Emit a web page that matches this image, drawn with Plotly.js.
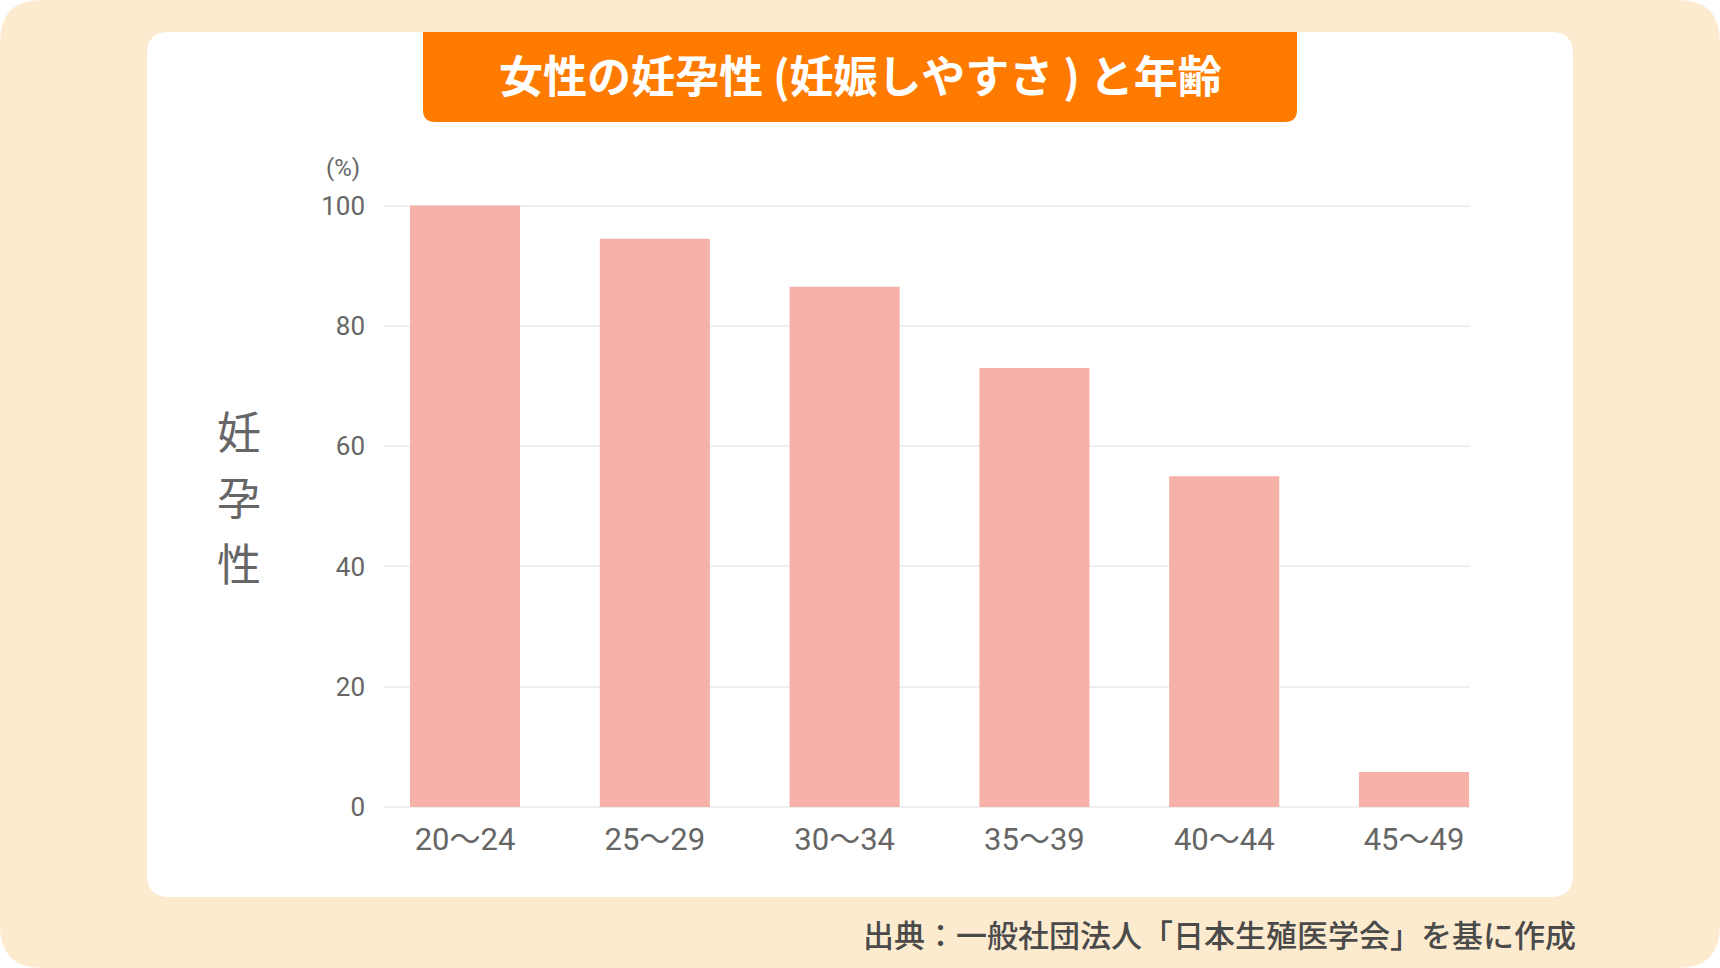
<!DOCTYPE html>
<html>
<head>
<meta charset="utf-8">
<script src="https://cdn.plot.ly/plotly-3.0.1.min.js"></script>
<style>
  html, body { margin: 0; padding: 0; background: #fff; }
  #chart { width: 1720px; height: 968px; }
</style>
</head>
<body>
<div id="chart"></div>
<script>
// data
const ageGroups = ['20～24', '25～29', '30～34', '35～39', '40～44', '45～49'];
const fertility = [100, 94.5, 86.5, 73, 55, 5.8];
const yTicks = [0, 20, 40, 60, 80, 100];
const yTitleChars = ['妊', '孕', '性'];

const titleText = '女性の妊孕性 (妊娠しやすさ ) と年齢';
const unitText = '(%)';
const sourceText = '出典：一般社団法人「日本生殖医学会」を基に作成';

// page geometry (pixels)
const W = 1720, H = 968;
const ML = 384, MR = 250, MT = 202, MB = 161;
const PW = W - ML - MR, PH = H - MT - MB;

// pixel -> paper fraction
const fx = px => (px - ML) / PW;
const fy = py => (H - MB - py) / PH;

// rounded rectangle as a paper path, corners via quadratic curves
function roundRect(x0, y0, x1, y1, rTop, rBot) {
    const p = (x, y) => fx(x).toFixed(5) + ',' + fy(y).toFixed(5);
    return 'M' + p(x0 + rTop, y0) +
        ' L' + p(x1 - rTop, y0) +
        ' Q' + p(x1, y0) + ' ' + p(x1, y0 + rTop) +
        ' L' + p(x1, y1 - rBot) +
        ' Q' + p(x1, y1) + ' ' + p(x1 - rBot, y1) +
        ' L' + p(x0 + rBot, y1) +
        ' Q' + p(x0, y1) + ' ' + p(x0, y1 - rBot) +
        ' L' + p(x0, y0 + rTop) +
        ' Q' + p(x0, y0) + ' ' + p(x0 + rTop, y0) + ' Z';
}

function bgShape(path, color) {
    return { type: 'path', xref: 'paper', yref: 'paper', layer: 'below', path: path, fillcolor: color, line: { width: 0 } };
}

const numFont = 'Roboto, "Noto Sans CJK JP", sans-serif';
const jpFont = '"Noto Sans CJK JP", sans-serif';

const annotations = [
    { // title banner text
        text: titleText, xref: 'paper', yref: 'paper', x: fx(860), y: fy(74),
        xanchor: 'center', yanchor: 'middle', showarrow: false,
        font: { family: jpFont, size: 44, color: '#ffffff', weight: 'bold' }
    },
    { // unit label
        text: unitText, xref: 'paper', yref: 'paper', x: fx(343), y: fy(168),
        xanchor: 'center', yanchor: 'middle', showarrow: false,
        font: { family: numFont, size: 24, color: '#666666' }
    },
    { // source note
        text: sourceText, xref: 'paper', yref: 'paper', x: fx(1578), y: fy(934),
        xanchor: 'right', yanchor: 'middle', showarrow: false,
        font: { family: jpFont, size: 31, color: '#4a4a4a', weight: 500 }
    }
];
// vertical axis title, one character per line
yTitleChars.forEach((ch, i) => {
    annotations.push({
        text: ch, xref: 'paper', yref: 'paper', x: fx(239), y: fy(430 + i * 66),
        xanchor: 'center', yanchor: 'middle', showarrow: false,
        font: { family: jpFont, size: 44, color: '#666666' }
    });
});

Plotly.newPlot('chart', [{
    type: 'bar',
    x: ageGroups,
    y: fertility,
    marker: { color: '#f6b1a8', line: { width: 0 } },
    hoverinfo: 'x+y'
}], {
    width: W,
    height: H,
    margin: { l: ML, r: MR, t: MT, b: MB, pad: 0 },
    paper_bgcolor: '#ffffff',
    plot_bgcolor: 'rgba(0,0,0,0)',
    showlegend: false,
    bargap: 0.42,
    xaxis: {
        type: 'category',
        range: [-0.427, 5.295],
        showgrid: false,
        zeroline: false,
        showline: false,
        ticks: '',
        ticklabelstandoff: 11,
        tickfont: { family: numFont, size: 31, color: '#666666' },
        fixedrange: true
    },
    yaxis: {
        range: [0, 100.6],
        tickvals: yTicks,
        ticktext: yTicks.map(String),
        showgrid: true,
        gridcolor: '#efefef',
        gridwidth: 2,
        zeroline: true,
        zerolinecolor: '#efefef',
        zerolinewidth: 2,
        showline: false,
        ticks: '',
        ticklabelstandoff: 18,
        tickfont: { family: numFont, size: 26, color: '#666666' },
        fixedrange: true
    },
    shapes: [
        bgShape(roundRect(0, 0, W, H, 42, 42), '#fdebcf'),
        bgShape(roundRect(147, 32, 1573, 897, 22, 22), '#ffffff'),
        bgShape(roundRect(423, 32, 1297, 122, 0, 12), '#ff7b00')
    ],
    annotations: annotations
}, { displayModeBar: false, staticPlot: true });
</script>
</body>
</html>
